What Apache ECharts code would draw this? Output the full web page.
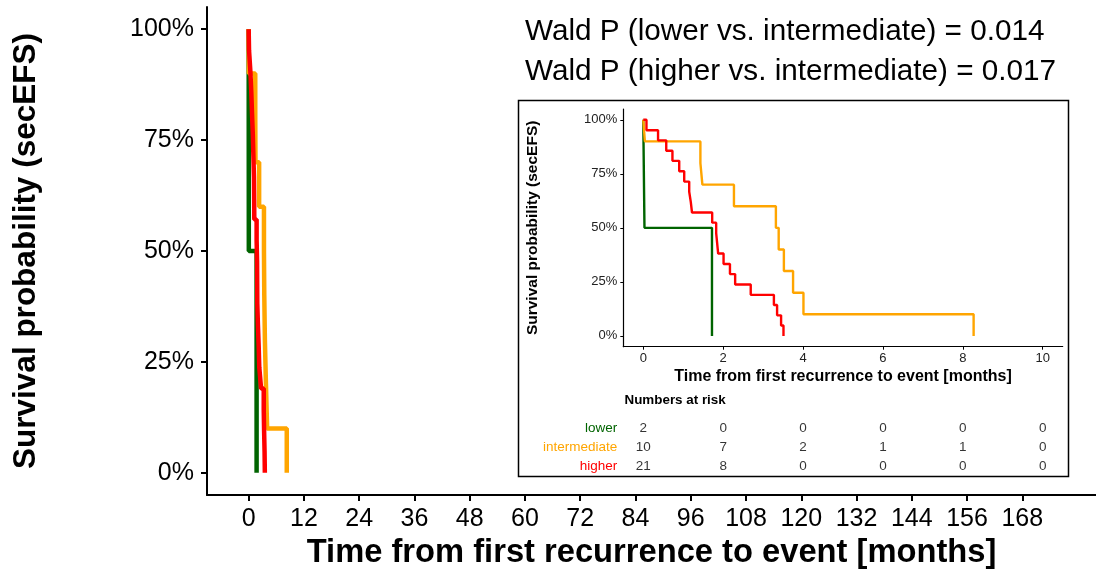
<!DOCTYPE html>
<html>
<head>
<meta charset="utf-8">
<script src="https://cdn.jsdelivr.net/npm/echarts@6/dist/echarts.min.js"></script>
<style>
  html, body { margin: 0; padding: 0; background: #fff; }
  #chart { width: 1096px; height: 578px; }
</style>
</head>
<body>
<div id="chart"></div>
<script>
// Kaplan-Meier steps (months, survival)
const lowerTime = [0, 0.03, 1.72]
const lowerSurv = [1, 0.5, 0]
const interTime = [0, 0.04, 1.43, 1.48, 2.27, 3.32, 3.39, 3.52, 3.75, 4.01, 8.27]
const interSurv = [1, 0.9, 0.8, 0.7, 0.6, 0.5, 0.4, 0.3, 0.2, 0.1, 0]
const higherTime = [0, 0.08, 0.37, 0.575, 0.73, 0.9, 1.025, 1.15, 1.19, 1.22, 1.725, 1.825, 1.875, 2.01, 2.17, 2.3, 2.69, 3.27, 3.35, 3.45, 3.51]
const higherSurv = [1, 0.952, 0.905, 0.857, 0.81, 0.762, 0.714, 0.667, 0.619, 0.571, 0.524, 0.476, 0.381, 0.333, 0.286, 0.238, 0.19, 0.143, 0.095, 0.048, 0]

const mainTicks = [0, 12, 24, 36, 48, 60, 72, 84, 96, 108, 120, 132, 144, 156, 168]
const insetTicks = [0, 2, 4, 6, 8, 10]
const survTicks = [0, 0.25, 0.5, 0.75, 1]

// numbers at risk
const groups = ['lower', 'intermediate', 'higher']
const riskTimes = [0, 2, 4, 6, 8, 10]
const riskLower = [2, 0, 0, 0, 0, 0]
const riskInter = [10, 7, 2, 1, 1, 0]
const riskHigher = [21, 8, 0, 0, 0, 0]

const colors = { lower: '#006400', intermediate: '#FFA500', higher: '#FF0000' }
const FONT = "'Liberation Sans', Arial, sans-serif"

const pairs = (t, s) => t.map((x, i) => [x, s[i]])
const pct = (v) => Math.round(v * 100) + '%'

const curves = [
    { name: 'lower', data: pairs(lowerTime, lowerSurv) },
    { name: 'intermediate', data: pairs(interTime, interSurv) },
    { name: 'higher', data: pairs(higherTime, higherSurv) },
]

const chart = echarts.init(document.getElementById('chart'))

const seriesList = []
curves.forEach((c) => {
    // main plot
    seriesList.push({
        type: 'line', step: 'end', name: c.name, xAxisIndex: 0, yAxisIndex: 0,
        data: c.data, showSymbol: false, silent: true, z: 3,
        lineStyle: { color: colors[c.name], width: 4.5, cap: 'butt' },
    })
    // inset plot
    seriesList.push({
        type: 'line', step: 'end', name: c.name, xAxisIndex: 1, yAxisIndex: 1,
        data: c.data, showSymbol: false, silent: true, z: 5,
        lineStyle: { color: colors[c.name], width: 2.4, cap: 'butt' },
    })
})
const riskRows = [riskLower, riskInter, riskHigher]
riskRows.forEach((row, r) => {
    seriesList.push({
        type: 'scatter', xAxisIndex: 2, yAxisIndex: 2, silent: true, z: 5,
        symbolSize: 0,
        data: row.map((v, i) => [riskTimes[i], groups[r], v]),
        label: {
            show: true, position: 'inside', color: '#000',
            fontFamily: FONT, fontSize: 13.5,
            formatter: (p) => String(p.value[2]),
        },
    })
})

chart.setOption({
    animation: false,
    grid: [
        { left: 207, top: 7, right: 0, bottom: 83, containLabel: false },
        { left: 623.3, top: 109, width: 439.4, height: 237.7, containLabel: false },
        { left: 623.3, top: 418.5, width: 439.4, height: 57, containLabel: false },
    ],
    xAxis: [
        {
            gridIndex: 0, type: 'value', min: -9.05, max: 184,
            name: 'Time from first recurrence to event [months]',
            nameLocation: 'middle', nameGap: 40,
            nameTextStyle: { fontFamily: FONT, fontWeight: 'bold', fontSize: 32.7, color: '#000' },
            axisLine: { onZero: false, lineStyle: { color: '#000', width: 2 } },
            axisTick: { length: 6, lineStyle: { color: '#000', width: 2 }, customValues: mainTicks },
            axisLabel: { fontFamily: FONT, fontSize: 25, color: '#000', margin: 12, customValues: mainTicks },
            splitLine: { show: false },
        },
        {
            gridIndex: 1, type: 'value', min: -0.5, max: 10.5,
            name: 'Time from first recurrence to event [months]',
            nameLocation: 'middle', nameGap: 22,
            nameTextStyle: { fontFamily: FONT, fontWeight: 'bold', fontSize: 16, color: '#000' },
            axisLine: { onZero: false, lineStyle: { color: '#000', width: 1.2 } },
            axisTick: { length: 3, lineStyle: { color: '#000', width: 1 }, customValues: insetTicks },
            axisLabel: { fontFamily: FONT, fontSize: 13, color: '#222', margin: 5, customValues: insetTicks },
            splitLine: { show: false },
        },
        {
            gridIndex: 2, type: 'value', min: -0.5, max: 10.5, show: false,
        },
    ],
    yAxis: [
        {
            gridIndex: 0, type: 'value', min: -0.05, max: 1.05,
            name: 'Survival probability (secEFS)',
            nameLocation: 'middle', nameGap: 165, nameRotate: 90,
            nameTextStyle: { fontFamily: FONT, fontWeight: 'bold', fontSize: 31.5, color: '#000' },
            axisLine: { show: true, onZero: false, lineStyle: { color: '#000', width: 2 } },
            axisTick: { show: true, length: 6, lineStyle: { color: '#000', width: 2 }, customValues: survTicks },
            axisLabel: { fontFamily: FONT, fontSize: 25, color: '#000', margin: 13, formatter: pct, customValues: survTicks },
            splitLine: { show: false },
        },
        {
            gridIndex: 1, type: 'value', min: -0.05, max: 1.05,
            name: 'Survival probability (secEFS)',
            nameLocation: 'middle', nameGap: 83, nameRotate: 90,
            nameTextStyle: { fontFamily: FONT, fontWeight: 'bold', fontSize: 15.5, color: '#000' },
            axisLine: { show: true, onZero: false, lineStyle: { color: '#000', width: 1.2 } },
            axisTick: { show: true, length: 3, lineStyle: { color: '#000', width: 1 }, customValues: survTicks },
            axisLabel: { fontFamily: FONT, fontSize: 13, color: '#222', margin: 6, formatter: pct, customValues: survTicks },
            splitLine: { show: false },
        },
        {
            gridIndex: 2, type: 'category', data: groups, inverse: true,
            axisLine: { show: false }, axisTick: { show: false }, splitLine: { show: false },
            axisLabel: {
                fontFamily: FONT, fontSize: 13.5, margin: 6,
                color: (v) => colors[v],
            },
        },
    ],
    graphic: [
        {
            type: 'rect', z: -1, silent: true,
            shape: { x: 518.5, y: 100.5, width: 550, height: 376 },
            style: { fill: '#fff', stroke: '#000', lineWidth: 1.5 },
        },
        {
            type: 'text', left: 525, top: 17, silent: true,
            style: { text: 'Wald P (lower vs. intermediate) = 0.014', font: '29.7px ' + FONT, fill: '#000' },
        },
        {
            type: 'text', left: 525, top: 57, silent: true,
            style: { text: 'Wald P (higher vs. intermediate) = 0.017', font: '29.7px ' + FONT, fill: '#000' },
        },
        {
            type: 'text', left: 624.5, top: 394, silent: true,
            style: { text: 'Numbers at risk', font: 'bold 13.4px ' + FONT, fill: '#000' },
        },
    ],
    series: seriesList,
})
</script>
</body>
</html>
